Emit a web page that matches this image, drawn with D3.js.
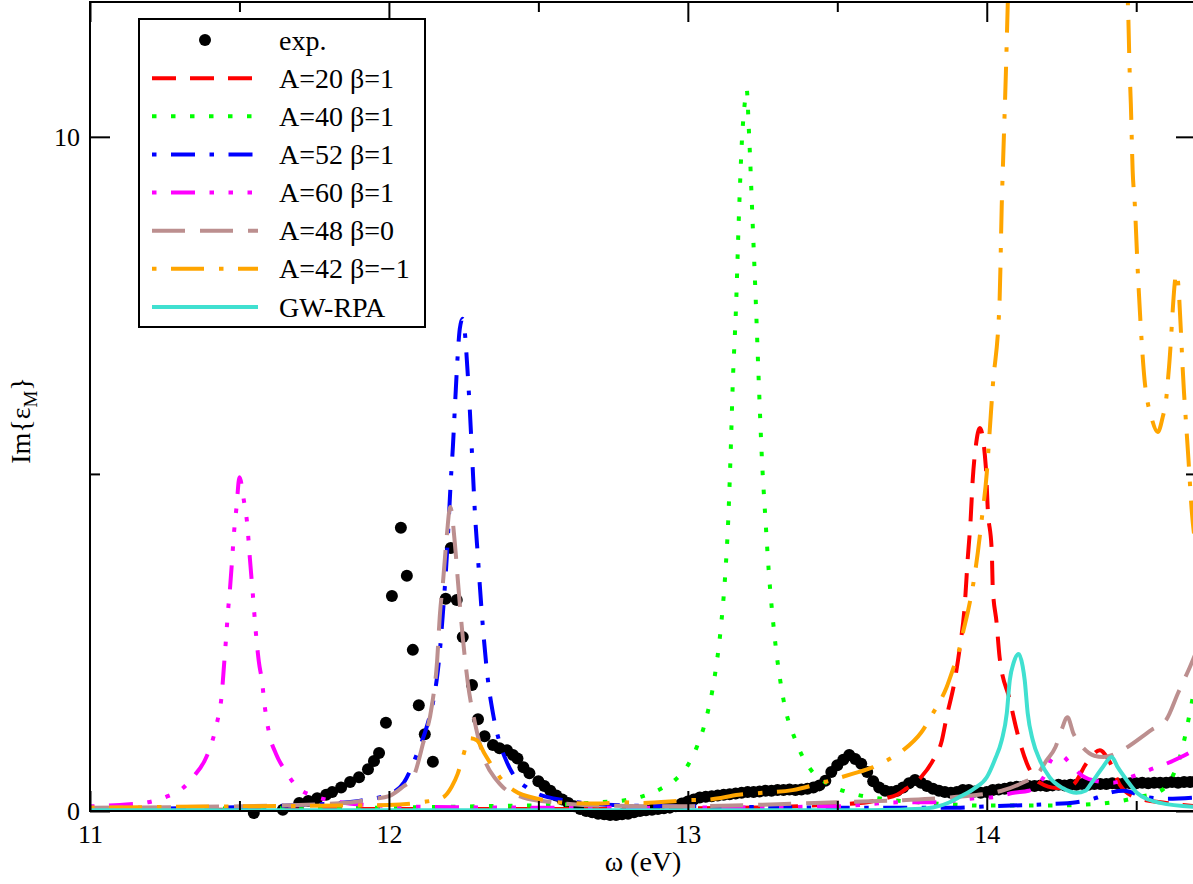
<!DOCTYPE html>
<html><head><meta charset="utf-8">
<script src="https://cdn.jsdelivr.net/npm/d3@7"></script>
<style>
body{margin:0;background:#fff}
text{font-family:"Liberation Serif","Times New Roman",serif;fill:#000}
</style>
</head><body>
<svg id="c" width="1193" height="884"></svg>
<script>
// ---------- data ----------
const xMajorTicks = [11, 12, 13, 14];
const xMinorTicks = [11.5, 12.5, 13.5, 14.5];
const yMajorTicks = [0, 10];
const yMinorTicks = [5];

const expX = [11.548, 11.645, 11.7, 11.73, 11.76, 11.79, 11.81, 11.84, 11.87, 11.9, 11.93, 11.95, 11.967, 11.99,
  12.01, 12.04, 12.06, 12.08, 12.1, 12.12, 12.147, 12.19, 12.207, 12.227, 12.247, 12.278, 12.298, 12.32, 12.348,
  12.37, 12.395, 12.415, 12.43, 12.45, 12.47,
  12.50, 12.52, 12.54, 12.56, 12.58, 12.60, 12.62, 12.64, 12.66, 12.68, 12.70, 12.72, 12.74, 12.76, 12.78, 12.80,
  12.82, 12.84, 12.86, 12.88, 12.90, 12.92, 12.94, 12.96, 12.98, 13.00, 13.02, 13.04, 13.06, 13.08, 13.10, 13.12,
  13.14, 13.16, 13.18, 13.20, 13.22, 13.24, 13.26, 13.28, 13.30, 13.32, 13.34, 13.36, 13.38, 13.40, 13.42, 13.44,
  13.46, 13.48, 13.50, 13.52, 13.54, 13.56, 13.58, 13.60, 13.62, 13.64, 13.66, 13.68, 13.70, 13.72, 13.74, 13.76,
  13.78, 13.80, 13.82, 13.84, 13.86, 13.88, 13.90, 13.92, 13.94, 13.96, 13.98, 14.00, 14.02, 14.04, 14.06, 14.08,
  14.10, 14.12, 14.14, 14.16, 14.18, 14.20, 14.22, 14.24, 14.26, 14.28, 14.30, 14.32, 14.34, 14.36, 14.38, 14.40,
  14.42, 14.44, 14.46, 14.48, 14.50, 14.52, 14.54, 14.56, 14.58, 14.60, 14.62, 14.64, 14.66, 14.68, 14.70];
const expY = [-0.03, 0.02, 0.12, 0.15, 0.19, 0.24, 0.28, 0.35, 0.43, 0.5, 0.62, 0.74, 0.86, 1.31,
  3.19, 4.2, 3.49, 2.39, 1.57, 1.14, 0.73, 3.15, 3.9, 3.13, 2.58, 1.87, 1.36, 1.11, 0.98,
  0.93, 0.9, 0.83, 0.78, 0.65, 0.56,
  0.44, 0.37, 0.30, 0.23, 0.17, 0.12, 0.07, 0.03, 0.00, -0.02, -0.04, -0.05, -0.06, -0.06, -0.05, -0.04,
  -0.02, 0.00, 0.01, 0.02, 0.03, 0.04, 0.05, 0.07, 0.11, 0.14, 0.17, 0.20, 0.21, 0.22, 0.23, 0.24,
  0.25, 0.26, 0.27, 0.28, 0.28, 0.29, 0.30, 0.30, 0.31, 0.31, 0.32, 0.31, 0.32, 0.33, 0.35, 0.38,
  0.45, 0.58, 0.68, 0.76, 0.83, 0.77, 0.70, 0.58, 0.44, 0.35, 0.30, 0.28, 0.30, 0.35, 0.41, 0.46,
  0.42, 0.37, 0.33, 0.30, 0.28, 0.27, 0.28, 0.31, 0.31, 0.29, 0.27, 0.28, 0.31, 0.32, 0.33, 0.35,
  0.36, 0.36, 0.37, 0.37, 0.38, 0.37, 0.38, 0.39, 0.38, 0.39, 0.39, 0.40, 0.39, 0.40, 0.40, 0.40,
  0.41, 0.40, 0.41, 0.41, 0.41, 0.42, 0.41, 0.42, 0.42, 0.42, 0.43, 0.42, 0.43, 0.43, 0.44];

const a20X = [11.0, 11.5, 12.0, 12.5, 13.0, 13.3, 13.5, 13.6, 13.65, 13.7, 13.73, 13.78, 13.82, 13.85, 13.866, 13.893,
  13.91, 13.926, 13.936, 13.946, 13.953, 13.963, 13.977, 13.997, 14.003, 14.017, 14.02, 14.033, 14.043, 14.077, 14.1,
  14.134, 14.177, 14.234, 14.288, 14.334, 14.378, 14.411, 14.445, 14.5, 14.6, 14.7];
const a20Y = [0.02, 0.02, 0.03, 0.03, 0.04, 0.06, 0.1, 0.13, 0.18, 0.24, 0.33, 0.5, 0.75, 1.05, 1.4, 1.94,
  2.43, 3.03, 3.72, 4.32, 4.91, 5.4, 5.68, 5.1, 4.51, 3.83, 3.32, 2.79, 2.28, 1.65, 1.2,
  0.71, 0.42, 0.34, 0.39, 0.71, 0.9, 0.73, 0.39, 0.2, 0.12, 0.07];

const a40X = [11.0, 11.5, 12.0, 12.3, 12.6, 12.7, 12.79, 12.85, 12.91, 12.96, 13.003, 13.03, 13.06, 13.09, 13.11, 13.125,
  13.135, 13.144, 13.15, 13.161, 13.171, 13.181, 13.19, 13.197, 13.204, 13.217, 13.227, 13.237, 13.247, 13.26, 13.27,
  13.29, 13.32, 13.36, 13.41, 13.47, 13.55, 13.65, 13.8, 14.0, 14.2, 14.35, 14.45, 14.52, 14.57, 14.62, 14.645,
  14.662, 14.679, 14.7];
const a40Y = [0.03, 0.04, 0.05, 0.07, 0.1, 0.13, 0.16, 0.22, 0.33, 0.47, 0.7, 0.95, 1.35, 2.0, 2.7, 3.5,
  4.3, 5.42, 6.3, 7.45, 8.85, 9.95, 10.48, 10.7, 10.12, 8.7, 7.6, 6.4, 5.3, 4.3, 3.6,
  2.6, 1.65, 1.05, 0.62, 0.4, 0.26, 0.18, 0.12, 0.08, 0.08, 0.1, 0.15, 0.22, 0.27, 0.5, 0.78,
  1.08, 1.45, 1.95];

const a52X = [11.0, 11.3, 11.6, 11.8, 11.9, 12.0, 12.05, 12.094, 12.13, 12.147, 12.16, 12.17, 12.18, 12.194, 12.2,
  12.207, 12.214, 12.222, 12.23, 12.237, 12.246, 12.254, 12.262, 12.27, 12.278, 12.288, 12.298, 12.304, 12.314,
  12.331, 12.348, 12.365, 12.395, 12.415, 12.46, 12.57, 12.8, 13.0, 13.5, 13.9, 14.0, 14.2, 14.3, 14.37, 14.42,
  14.46, 14.52, 14.6, 14.7];
const a52Y = [0.03, 0.04, 0.07, 0.11, 0.15, 0.25, 0.42, 0.85, 1.3, 1.6, 1.95, 2.35, 2.9, 3.8, 4.3,
  4.9, 5.4, 6.1, 6.75, 7.15, 7.3, 7.1, 6.6, 6.0, 5.3, 4.4, 3.75, 3.35, 2.75,
  1.95, 1.45, 1.1, 0.72, 0.55, 0.35, 0.17, 0.08, 0.07, 0.05, 0.05, 0.07, 0.1, 0.13, 0.2, 0.28,
  0.3, 0.22, 0.18, 0.2];

const a60X = [11.0, 11.1, 11.194, 11.26, 11.311, 11.344, 11.385, 11.408, 11.425, 11.441, 11.448, 11.455, 11.462,
  11.468, 11.475, 11.482, 11.49, 11.5, 11.515, 11.525, 11.535, 11.545, 11.555, 11.565, 11.575, 11.585, 11.602,
  11.622, 11.659, 11.692, 11.75, 11.8, 11.92, 12.15, 12.5, 13.0, 13.5, 13.72, 13.83, 13.96, 14.03, 14.09, 14.14,
  14.19, 14.22, 14.25, 14.28, 14.32, 14.37, 14.42, 14.48, 14.55, 14.6, 14.65, 14.7];
const a60Y = [0.07, 0.09, 0.13, 0.22, 0.34, 0.5, 0.76, 1.02, 1.31, 1.74, 2.14, 2.55, 2.98,
  3.28, 3.7, 4.14, 4.5, 4.95, 4.6, 4.3, 3.74, 3.2, 2.64, 2.21, 1.94, 1.54, 1.1,
  0.85, 0.56, 0.36, 0.22, 0.16, 0.09, 0.06, 0.05, 0.05, 0.07, 0.13, 0.13, 0.19, 0.21, 0.27, 0.3,
  0.5, 0.78, 0.82, 0.7, 0.52, 0.44, 0.42, 0.5, 0.62, 0.7, 0.8, 0.92];

const a48X = [11.0, 11.5, 11.85, 11.95, 12.0, 12.047, 12.08, 12.114, 12.144, 12.161, 12.171, 12.181, 12.194, 12.205,
  12.221, 12.231, 12.247, 12.264, 12.288, 12.321, 12.36, 12.38, 12.45, 12.55, 12.7, 13.0, 13.3, 13.5, 13.72, 13.9,
  14.05, 14.12, 14.17, 14.2, 14.23, 14.25, 14.27, 14.29, 14.32, 14.36, 14.39, 14.43, 14.46, 14.55, 14.6, 14.64,
  14.68, 14.7];
const a48Y = [0.05, 0.07, 0.12, 0.18, 0.22, 0.36, 0.49, 1.0, 1.57, 2.21, 2.94, 3.4, 4.1, 4.51,
  3.95, 3.4, 2.58, 1.9, 1.3, 0.75, 0.46, 0.36, 0.2, 0.13, 0.08, 0.07, 0.1, 0.13, 0.16, 0.21,
  0.3, 0.42, 0.55, 0.75, 0.95, 1.2, 1.39, 1.15, 0.95, 0.82, 0.8, 0.85, 0.92, 1.2, 1.35, 1.75,
  2.14, 2.35];

const a42X = [11.0, 11.5, 12.0, 12.11, 12.18, 12.21, 12.23, 12.247, 12.27, 12.294, 12.32, 12.348, 12.38, 12.42,
  12.5, 12.6, 12.7, 12.77, 12.85, 13.0, 13.07, 13.17, 13.25, 13.35, 13.45, 13.55, 13.62, 13.67, 13.72, 13.78,
  13.82, 13.866, 13.886, 13.906, 13.92, 13.936, 13.953, 13.97, 13.983, 14.0, 14.01, 14.02, 14.043, 14.05, 14.057,
  14.064, 14.07, 14.1, 14.2, 14.3, 14.4, 14.45, 14.472, 14.478, 14.482, 14.488, 14.495, 14.505, 14.515, 14.528,
  14.538, 14.55, 14.572, 14.589, 14.6, 14.61, 14.635, 14.66, 14.675, 14.686, 14.7];
const a42Y = [0.05, 0.07, 0.09, 0.13, 0.2, 0.36, 0.55, 0.8, 1.08, 1.05, 0.85, 0.65, 0.45, 0.3,
  0.18, 0.12, 0.11, 0.13, 0.12, 0.16, 0.17, 0.24, 0.27, 0.31, 0.42, 0.55, 0.65, 0.76, 0.9, 1.16,
  1.45, 1.84, 2.09, 2.36, 2.64, 2.94, 3.32, 3.83, 4.32, 5.01, 5.65, 6.29, 7.58, 8.96, 9.96,
  10.95, 11.93, 16, 22, 20, 16, 13, 11.99, 10.98, 10.49, 9.51, 9.02, 8.03, 7.2, 6.39,
  6.07, 5.85, 5.62, 5.85, 6.1, 6.6, 7.98, 6.2, 5.2, 4.44, 3.9];

const gwX = [11.0, 12.0, 13.0, 13.5, 13.71, 13.8, 13.876, 13.91, 13.96, 14.0, 14.027, 14.05, 14.067, 14.077, 14.09,
  14.107, 14.12, 14.127, 14.137, 14.154, 14.177, 14.21, 14.254, 14.3, 14.33, 14.351, 14.388, 14.418, 14.438, 14.468,
  14.502, 14.54, 14.58, 14.7];
const gwY = [0.01, 0.01, 0.01, 0.01, 0.02, 0.04, 0.13, 0.21, 0.34, 0.5, 0.76, 1.05, 1.45, 1.94, 2.2,
  2.33, 2.15, 1.94, 1.45, 1.05, 0.76, 0.5, 0.34, 0.27, 0.3, 0.42, 0.65, 0.8, 0.65, 0.46,
  0.27, 0.17, 0.12, 0.06];

const legendLabels = ["exp.", "A=20 \u03b2=1", "A=40 \u03b2=1", "A=52 \u03b2=1", "A=60 \u03b2=1", "A=48 \u03b2=0", "A=42 \u03b2=\u22121", "GW-RPA"];

// ---------- drawing ----------
const svg = d3.select("#c");
const L = 90, R = 1196, T = 2, B = 811;
const x = d3.scaleLinear().domain([11, 14.7]).range([L, R]);
const y = d3.scaleLinear().domain([0, 12]).range([B, T]);

svg.append("rect").attr("width", 1193).attr("height", 884).attr("fill", "#fff");
svg.append("defs").append("clipPath").attr("id", "clip")
  .append("rect").attr("x", L).attr("y", T).attr("width", R - L).attr("height", B - T);

const series = [
  {xs: a20X, ys: a20Y, color: "#ff0000", dash: "24,14"},
  {xs: a40X, ys: a40Y, color: "#00ff00", dash: "4.5,14.5"},
  {xs: a52X, ys: a52Y, color: "#0000ff", dash: "4.5,14.5,24,14.5"},
  {xs: a60X, ys: a60Y, color: "#ff00ff", dash: "4.5,14.5,24,14.5,4.5,14.5,4.5,14.5"},
  {xs: a48X, ys: a48Y, color: "#bc8f8f", dash: "33,15"},
  {xs: a42X, ys: a42Y, color: "#ffa500", dash: "4.5,14.5,33,15"},
  {xs: gwX, ys: gwY, color: "#40e0d0", dash: null}
];

// experimental points
svg.append("g").selectAll("circle").data(expX.map((v, i) => [v, expY[i]])).join("circle")
  .attr("cx", d => x(d[0])).attr("cy", d => y(d[1])).attr("r", 6).attr("fill", "#000");

const line = d3.line().x(d => x(d[0])).y(d => y(d[1])).curve(d3.curveMonotoneX);
const gl = svg.append("g").attr("clip-path", "url(#clip)");
series.forEach(s => {
  gl.append("path").datum(s.xs.map((v, i) => [v, s.ys[i]]))
    .attr("d", line).attr("fill", "none").attr("stroke", s.color)
    .attr("stroke-width", 4).attr("stroke-dasharray", s.dash).attr("stroke-linejoin", "miter");
});

// axes
function styleAxis(g) {
  g.select(".domain").remove();
  g.selectAll(".tick line").attr("stroke", "#000").attr("stroke-width", 2);
  g.selectAll("text").style("font-size", "26px").attr("font-family", null);
}
svg.append("g").attr("transform", `translate(0,${B})`)
  .call(d3.axisBottom(x).tickValues(xMajorTicks).tickSize(-20).tickFormat(d3.format("d")))
  .call(styleAxis)
  .call(g => g.selectAll("text").attr("y", 32).attr("dy", 0));
svg.append("g").attr("transform", `translate(0,${B})`)
  .call(d3.axisBottom(x).tickValues(xMinorTicks).tickSize(-10).tickFormat(""))
  .call(styleAxis);
svg.append("g").attr("transform", `translate(0,${T})`)
  .call(d3.axisTop(x).tickValues(xMajorTicks).tickSize(-20).tickFormat(""))
  .call(styleAxis);
svg.append("g").attr("transform", `translate(0,${T})`)
  .call(d3.axisTop(x).tickValues(xMinorTicks).tickSize(-10).tickFormat(""))
  .call(styleAxis);
svg.append("g").attr("transform", `translate(${L},0)`)
  .call(d3.axisLeft(y).tickValues(yMajorTicks).tickSize(-20).tickFormat(d3.format("d")))
  .call(styleAxis)
  .call(g => g.selectAll("text").attr("x", -10).attr("dy", "0.34em"));
svg.append("g").attr("transform", `translate(${L},0)`)
  .call(d3.axisLeft(y).tickValues(yMinorTicks).tickSize(-10).tickFormat(""))
  .call(styleAxis);
svg.append("g").attr("transform", `translate(${R},0)`)
  .call(d3.axisRight(y).tickValues(yMajorTicks).tickSize(-20).tickFormat(""))
  .call(styleAxis);
svg.append("g").attr("transform", `translate(${R},0)`)
  .call(d3.axisRight(y).tickValues(yMinorTicks).tickSize(-10).tickFormat(""))
  .call(styleAxis);

// frame
svg.append("rect").attr("x", L).attr("y", T).attr("width", R - L).attr("height", B - T)
  .attr("fill", "none").attr("stroke", "#000").attr("stroke-width", 2);

// axis titles
svg.append("text").attr("x", (L + R) / 2).attr("y", 871).attr("text-anchor", "middle")
  .style("font-size", "28px").text("\u03c9 (eV)");
const yt = svg.append("text").attr("transform", `translate(30,${(T + B) / 2 + 14}) rotate(-90)`)
  .attr("text-anchor", "middle").style("font-size", "28px");
yt.append("tspan").text("Im{\u03b5");
yt.append("tspan").attr("dy", 7).style("font-size", "19px").text("M");
yt.append("tspan").attr("dy", -7).text("}");

// legend
const lg = svg.append("g");
lg.append("rect").attr("x", 139).attr("y", 19).attr("width", 286).attr("height", 308)
  .attr("fill", "#fff").attr("stroke", "#000").attr("stroke-width", 2);
const rowY = d3.scaleLinear().domain([0, 7]).range([40, 307]);
legendLabels.forEach((lab, i) => {
  const yy = rowY(i);
  if (i === 0) {
    lg.append("circle").attr("cx", 205).attr("cy", yy).attr("r", 6).attr("fill", "#000");
  } else {
    const s = series[i - 1];
    lg.append("line").attr("x1", 152).attr("x2", 258).attr("y1", yy).attr("y2", yy)
      .attr("stroke", s.color).attr("stroke-width", 4).attr("stroke-dasharray", s.dash);
  }
  lg.append("text").attr("x", 279).attr("y", yy + 9.5).style("font-size", "28px").text(lab);
});
</script>
</body></html>
